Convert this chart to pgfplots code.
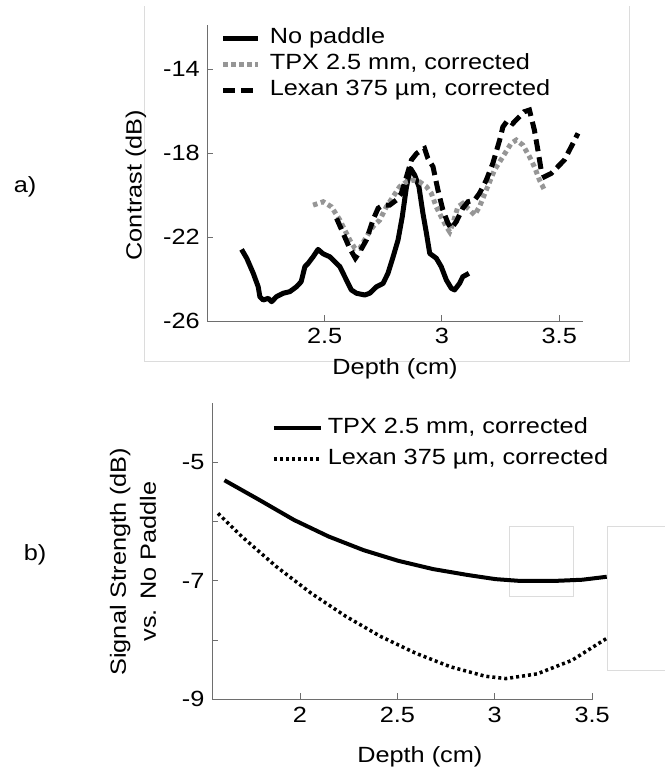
\documentclass[border=0pt]{standalone}
\usepackage{fontspec}
\setmainfont{Liberation Sans}[FakeStretch=1.15]
\usepackage{pgfplots}
\usepackage{pgfplotstable}
\pgfplotsset{compat=1.18}
\definecolor{tpxgray}{RGB}{150,150,150}
\definecolor{axgray}{RGB}{110,110,110}
\definecolor{framegray}{RGB}{220,220,220}

\pgfplotstableread{
x y
2.146 -22.59
2.168 -23.01
2.196 -23.73
2.217 -24.37
2.224 -24.84
2.238 -25.00
2.260 -24.92
2.274 -25.08
2.295 -24.84
2.323 -24.68
2.352 -24.60
2.380 -24.37
2.400 -24.13
2.416 -23.41
2.430 -23.25
2.451 -22.94
2.472 -22.59
2.494 -22.80
2.522 -22.94
2.565 -23.41
2.593 -24.05
2.614 -24.52
2.636 -24.68
2.671 -24.76
2.692 -24.68
2.721 -24.37
2.749 -24.21
2.770 -23.73
2.792 -22.94
2.813 -22.14
2.831 -21.03
2.849 -19.60
2.866 -18.73
2.884 -19.05
2.902 -19.60
2.919 -20.87
2.934 -21.82
2.948 -22.78
2.976 -23.01
2.997 -23.41
3.019 -24.05
3.040 -24.44
3.054 -24.52
3.075 -24.21
3.089 -23.89
3.115 -23.73
}\nopaddle

\pgfplotstableread{
x y
2.451 -20.48
2.494 -20.32
2.529 -20.56
2.565 -21.19
2.607 -22.14
2.629 -22.54
2.650 -22.54
2.678 -21.99
2.706 -21.51
2.735 -21.19
2.763 -20.56
2.792 -20.08
2.820 -19.60
2.849 -19.37
2.877 -19.29
2.905 -19.37
2.934 -19.60
2.955 -19.92
2.976 -20.56
2.997 -21.03
3.019 -21.51
3.033 -21.75
3.047 -21.35
3.068 -20.56
3.089 -20.40
3.118 -20.71
3.139 -20.95
3.160 -20.56
3.189 -19.76
3.224 -18.81
3.260 -18.17
3.295 -17.54
3.317 -17.38
3.345 -17.62
3.373 -18.17
3.394 -18.65
3.416 -19.29
3.430 -19.60
3.444 -19.52
}\tpxtop

\pgfplotstableread{
x y
2.551 -21.11
2.579 -21.82
2.607 -22.54
2.631 -23.01
2.650 -22.70
2.678 -22.14
2.706 -21.19
2.728 -20.63
2.749 -20.48
2.777 -20.48
2.806 -20.24
2.827 -19.92
2.849 -19.13
2.870 -18.33
2.892 -18.02
2.912 -17.86
2.926 -17.78
2.940 -18.25
2.962 -18.65
2.983 -19.76
3.004 -20.71
3.026 -21.35
3.040 -21.59
3.061 -21.27
3.089 -20.63
3.111 -20.32
3.139 -20.24
3.160 -19.92
3.189 -19.29
3.217 -18.49
3.246 -17.38
3.260 -16.75
3.281 -16.43
3.302 -16.59
3.323 -16.35
3.351 -16.03
3.373 -15.95
3.394 -16.90
3.409 -17.86
3.423 -18.81
3.437 -19.13
3.466 -18.97
3.494 -18.65
3.522 -18.33
3.551 -17.70
3.580 -17.06
}\lexantop

\pgfplotstableread{
x y
1.612 -5.30
1.790 -5.63
1.969 -5.97
2.147 -6.25
2.326 -6.48
2.504 -6.66
2.683 -6.80
2.861 -6.90
3.004 -6.97
3.129 -7.00
3.308 -7.00
3.450 -6.98
3.575 -6.93
}\tpxbot

\pgfplotstableread{
x y
1.579 -5.86
1.701 -6.25
1.879 -6.76
2.058 -7.21
2.236 -7.60
2.415 -7.94
2.593 -8.22
2.772 -8.45
2.951 -8.61
3.057 -8.65
3.218 -8.57
3.397 -8.34
3.575 -7.97
}\lexanbot

\begin{document}
\fontsize{22bp}{26bp}\selectfont
\begin{tikzpicture}
\useasboundingbox[fill=white] (0bp,0bp) rectangle (665bp,-772bp);
% light frame around panel a
\draw[framegray, line width=1bp] (144bp,-6bp) -- (144bp,-361bp) -- (629bp,-361bp) -- (629bp,-6bp);
% light boxes in panel b
\draw[framegray, line width=1bp] (509.3bp,-526.7bp) rectangle (573.3bp,-596bp);
\draw[framegray, line width=1bp] (665bp,-526.7bp) -- (607.7bp,-526.7bp) -- (607.7bp,-670.7bp) -- (665bp,-670.7bp);

\node at (25bp,-186.7bp) {a)};
\node at (35bp,-555bp) {b)};

\pgfplotsset{
  mystyle/.style={
    scale only axis,
    axis lines=left,
    axis line style={-, axgray, line width=1bp},
    tick style={axgray, line width=1bp},
    tick align=inside,
    major tick length=6bp,
    clip=false,
    legend cell align=left,
    legend style={draw=none, fill=none, inner sep=0pt, outer sep=0pt,
      nodes={inner sep=0pt, text height=15bp, text depth=4.5bp}},
  }
}

\begin{axis}[mystyle,
  at={(207.3bp,-321bp)}, anchor=south west,
  width=375.4bp, height=296bp,
  xmin=2.0, xmax=3.6, ymin=-26, ymax=-11.9,
  xtick={2.5,3,3.5}, xticklabels={2.5,3,3.5},
  ytick={-26,-22,-18,-14}, yticklabels={-26,-22,-18,-14},
  xlabel={Depth (cm)}, ylabel={Contrast (dB)},
  xlabel style={at={(axis description cs:0.5,-0.162)}, anchor=center},
  ylabel style={at={(axis description cs:-0.19,0.459)}, anchor=center},
  legend style={at={(0.036,0.987)}, anchor=north west,
    row sep=6.5bp, /tikz/every odd column/.append style={column sep=9bp}},
  legend image code/.code={\draw[#1] (0bp,0bp) -- (35bp,0bp);},
]
\addplot[black, line width=5bp, line join=round] table[x=x,y=y] {\nopaddle};
\addlegendentry{No paddle}
\addplot[tpxgray, line width=5bp, dash pattern=on 4.5bp off 3.5bp] table[x=x,y=y] {\tpxtop};
\addlegendentry{TPX 2.5 mm, corrected}
\addplot[black, line width=5bp, dash pattern=on 12bp off 6bp] table[x=x,y=y] {\lexantop};
\addlegendentry{Lexan 375 µm, corrected}
\end{axis}

\begin{axis}[mystyle,
  at={(212bp,-699.3bp)}, anchor=south west,
  width=380.7bp, height=296bp,
  xmin=1.548, xmax=3.503, ymin=-9, ymax=-4,
  xtick={2,2.5,3,3.5}, xticklabels={2,2.5,3,3.5},
  ytick={-9,-8,-7,-6,-5}, yticklabels={-9,,-7,,-5},
  xlabel={Depth (cm)},
  ylabel={Signal Strength (dB)\\vs. No Paddle},
  xlabel style={at={(axis description cs:0.546,-0.195)}, anchor=center},
  ylabel style={at={(axis description cs:-0.2075,0.465)}, anchor=center,
    align=center, font=\fontsize{22bp}{30bp}\selectfont},
  legend style={at={(0.157,0.950)}, anchor=north west,
    row sep=11.5bp, /tikz/every odd column/.append style={column sep=5bp}},
  legend image code/.code={\draw[#1] (0bp,0bp) -- (47bp,0bp);},
]
\addplot[black, line width=4bp] table[x=x,y=y] {\tpxbot};
\addlegendentry{TPX 2.5 mm, corrected}
\addplot[black, line width=3.5bp, dash pattern=on 3bp off 3bp] table[x=x,y=y] {\lexanbot};
\addlegendentry{Lexan 375 µm, corrected}
\end{axis}
\end{tikzpicture}
\end{document}
